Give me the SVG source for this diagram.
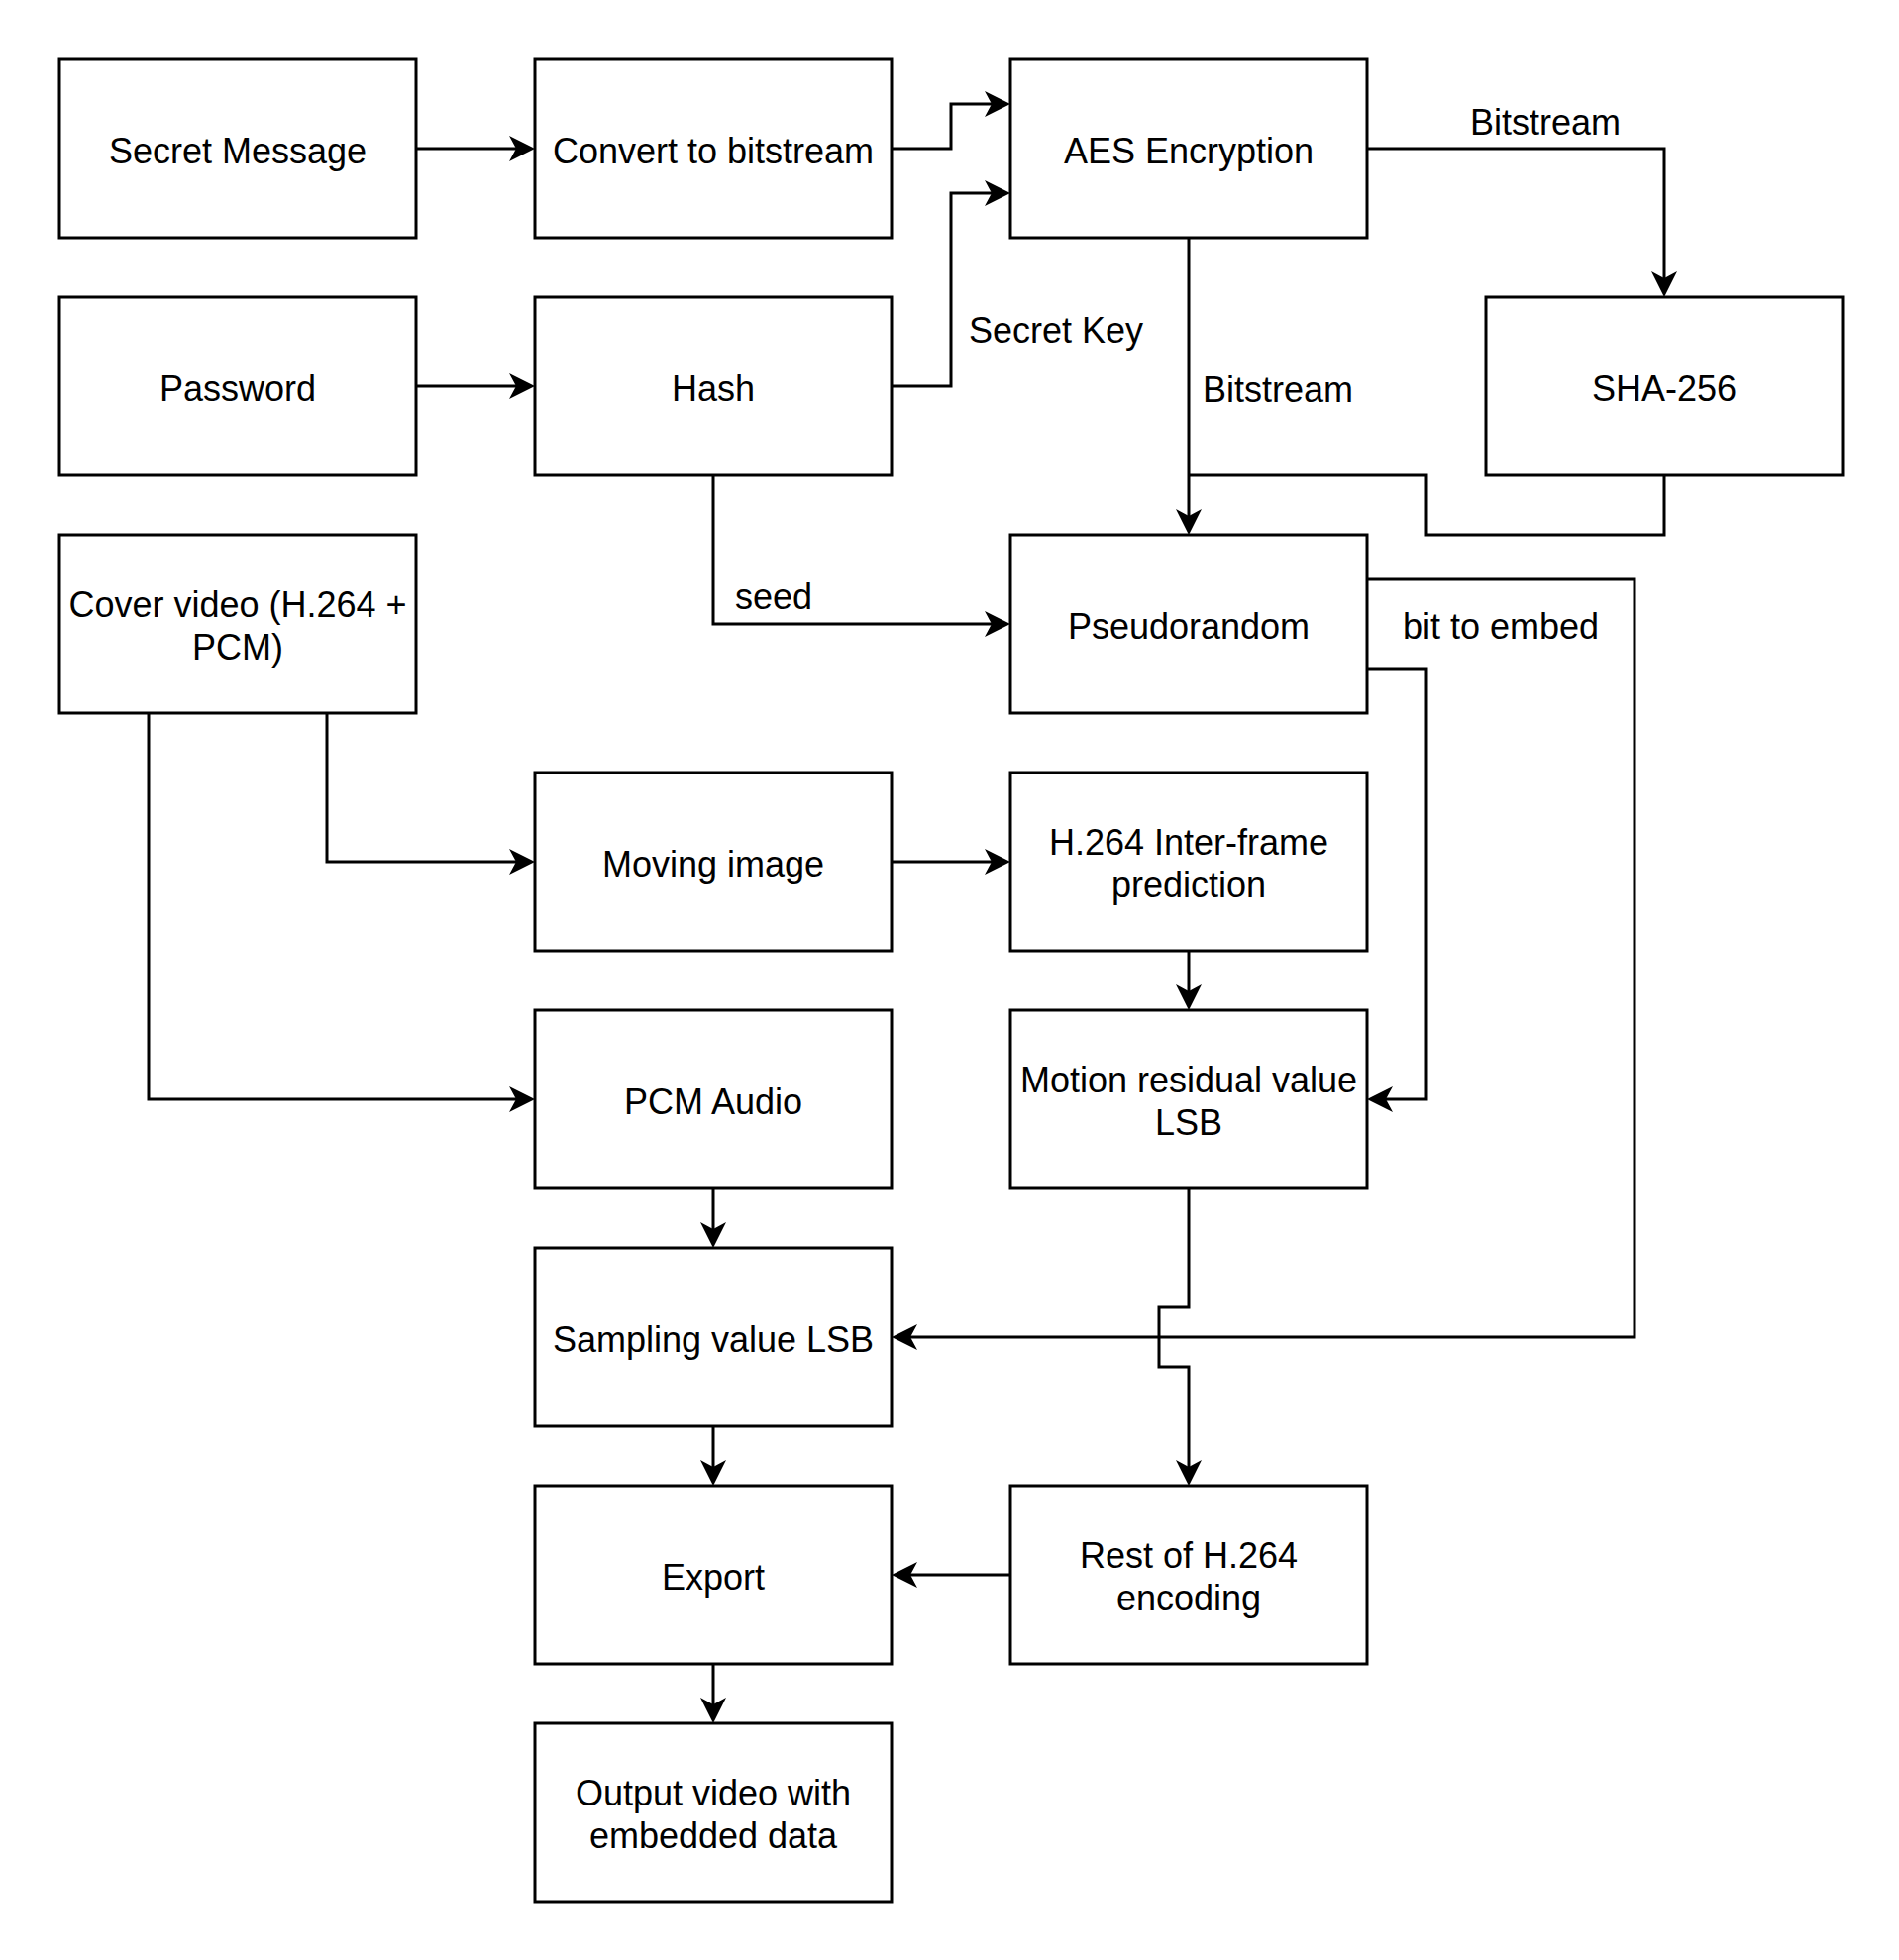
<svg xmlns="http://www.w3.org/2000/svg" width="1917" height="1979" viewBox="0 0 1917 1979">
  <style>
    .box { fill: #ffffff; stroke: #000000; stroke-width: 3; }
    .edge { fill: none; stroke: #000000; stroke-width: 3; }
    .arrow { marker-end: url(#arr); }
    text { font-family: "Liberation Sans", Arial, Helvetica, sans-serif; font-size: 36px; fill: #000000; text-anchor: middle; }
  </style>
  <defs>
    <!-- classic block arrowhead; the path ends at the notch -->
    <marker id="arr" markerUnits="userSpaceOnUse" viewBox="0 0 26 26" markerWidth="26" markerHeight="26" refX="7" refY="13" orient="auto">
      <path d="M0,0 L26,13 L0,26 L7,13 Z" fill="#000000"/>
    </marker>
  </defs>
  <rect width="1917" height="1979" fill="#ffffff"/>

  <!-- connectors -->
  <g id="connectors">
    <path class="edge arrow" d="M420,150 H521"/>
    <path class="edge arrow" d="M900,150 H960 V105 H1001"/>
    <path class="edge arrow" d="M420,390 H521"/>
    <path class="edge arrow" d="M900,390 H960 V195 H1001"/>
    <path class="edge arrow" d="M1380,150 H1680 V281"/>
    <path class="edge arrow" d="M1200,240 V521"/>
    <path class="edge" d="M1680,480 V540 H1440 V480 H1200"/>
    <path class="edge arrow" d="M720,480 V630 H1001"/>
    <path class="edge arrow" d="M1380,585 H1650 V1350 H919"/>
    <path class="edge arrow" d="M1380,675 H1440 V1110 H1399"/>
    <path class="edge arrow" d="M330,720 V870 H521"/>
    <path class="edge arrow" d="M150,720 V1110 H521"/>
    <path class="edge arrow" d="M900,870 H1001"/>
    <path class="edge arrow" d="M1200,960 V1001"/>
    <path class="edge arrow" d="M720,1200 V1241"/>
    <path class="edge arrow" d="M1200,1200 V1320 H1170 V1380 H1200 V1481"/>
    <path class="edge arrow" d="M720,1440 V1481"/>
    <path class="edge arrow" d="M1020,1590 H919"/>
    <path class="edge arrow" d="M720,1680 V1721"/>

    <!-- connector labels -->
    <text x="1066" y="346">Secret Key</text>
    <text x="1560" y="136">Bitstream</text>
    <text x="1290" y="406">Bitstream</text>
    <text x="781" y="615">seed</text>
    <text x="1515" y="645">bit to embed</text>
  </g>

  <!-- nodes -->
  <g id="secret-message">
    <rect class="box" x="60" y="60" width="360" height="180"/>
    <text x="240" y="165">Secret Message</text>
  </g>
  <g id="convert-bitstream">
    <rect class="box" x="540" y="60" width="360" height="180"/>
    <text x="720" y="165">Convert to bitstream</text>
  </g>
  <g id="aes-encryption">
    <rect class="box" x="1020" y="60" width="360" height="180"/>
    <text x="1200" y="165">AES Encryption</text>
  </g>
  <g id="password">
    <rect class="box" x="60" y="300" width="360" height="180"/>
    <text x="240" y="405">Password</text>
  </g>
  <g id="hash">
    <rect class="box" x="540" y="300" width="360" height="180"/>
    <text x="720" y="405">Hash</text>
  </g>
  <g id="sha-256">
    <rect class="box" x="1500" y="300" width="360" height="180"/>
    <text x="1680" y="405">SHA-256</text>
  </g>
  <g id="cover-video">
    <rect class="box" x="60" y="540" width="360" height="180"/>
    <text x="240" y="623">Cover video (H.264 +</text>
    <text x="240" y="666">PCM)</text>
  </g>
  <g id="pseudorandom">
    <rect class="box" x="1020" y="540" width="360" height="180"/>
    <text x="1200" y="645">Pseudorandom</text>
  </g>
  <g id="moving-image">
    <rect class="box" x="540" y="780" width="360" height="180"/>
    <text x="720" y="885">Moving image</text>
  </g>
  <g id="inter-frame-prediction">
    <rect class="box" x="1020" y="780" width="360" height="180"/>
    <text x="1200" y="863">H.264 Inter-frame</text>
    <text x="1200" y="906">prediction</text>
  </g>
  <g id="pcm-audio">
    <rect class="box" x="540" y="1020" width="360" height="180"/>
    <text x="720" y="1125">PCM Audio</text>
  </g>
  <g id="motion-residual-lsb">
    <rect class="box" x="1020" y="1020" width="360" height="180"/>
    <text x="1200" y="1103">Motion residual value</text>
    <text x="1200" y="1146">LSB</text>
  </g>
  <g id="sampling-value-lsb">
    <rect class="box" x="540" y="1260" width="360" height="180"/>
    <text x="720" y="1365">Sampling value LSB</text>
  </g>
  <g id="export">
    <rect class="box" x="540" y="1500" width="360" height="180"/>
    <text x="720" y="1605">Export</text>
  </g>
  <g id="rest-of-encoding">
    <rect class="box" x="1020" y="1500" width="360" height="180"/>
    <text x="1200" y="1583">Rest of H.264</text>
    <text x="1200" y="1626">encoding</text>
  </g>
  <g id="output-video">
    <rect class="box" x="540" y="1740" width="360" height="180"/>
    <text x="720" y="1823">Output video with</text>
    <text x="720" y="1866">embedded data</text>
  </g>
</svg>
